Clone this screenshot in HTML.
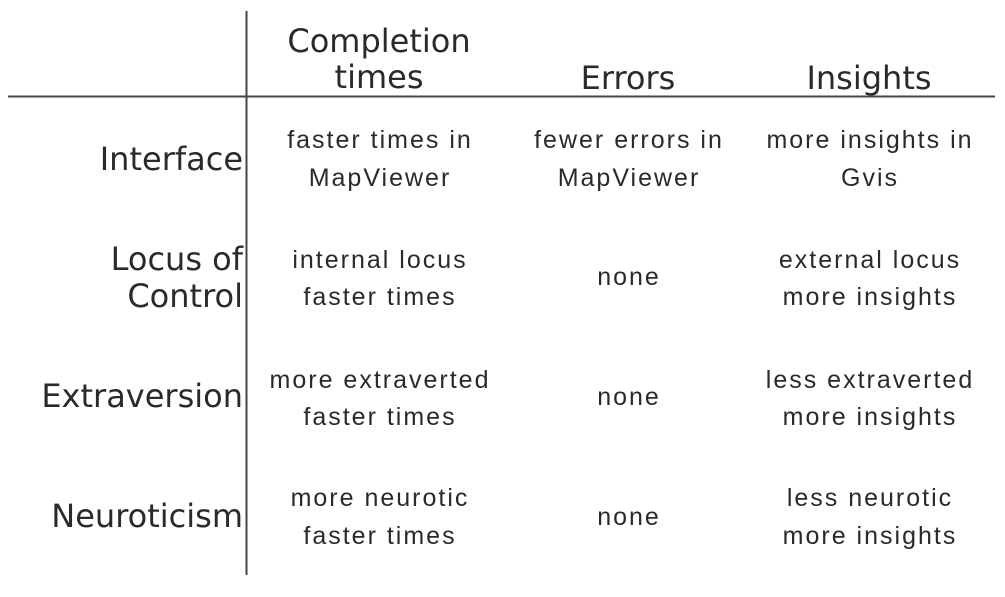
<!DOCTYPE html>
<html><head><meta charset="utf-8"><style>
html,body{margin:0;padding:0;background:#fff;}
svg{display:block;}
.h{font-family:"DejaVu Sans",Verdana,sans-serif;font-size:32px;fill:#2a2a2a;}
.r{font-family:"DejaVu Sans",Verdana,sans-serif;font-size:32px;fill:#2a2a2a;text-anchor:end;}
.c{font-family:"Liberation Sans",Arial,sans-serif;font-size:25px;letter-spacing:2px;fill:#2a2a2a;text-anchor:middle;}
</style></head><body>
<svg width="1005" height="597" viewBox="0 0 1005 597">
<rect width="1005" height="597" fill="#fff"/>
<line x1="246.5" y1="11" x2="246.5" y2="575" stroke="#444" stroke-width="2"/>
<line x1="8" y1="96.5" x2="995" y2="96.5" stroke="#444" stroke-width="2"/>
<g class="h" text-anchor="middle">
<text x="379" y="52">Completion</text>
<text x="379" y="88">times</text>
<text x="628" y="89">Errors</text>
<text x="869" y="89">Insights</text>
</g>
<text class="r" x="243" y="170">Interface</text>
<text class="r" x="243" y="270">Locus of</text>
<text class="r" x="243" y="307">Control</text>
<text class="r" x="243" y="407">Extraversion</text>
<text class="r" x="243" y="527">Neuroticism</text>
<g class="c">
<text x="380" y="148">faster times in</text>
<text x="380" y="186">MapViewer</text>
<text x="629" y="148">fewer errors in</text>
<text x="629" y="186">MapViewer</text>
<text x="870" y="148">more insights in</text>
<text x="870" y="186">Gvis</text>
<text x="380" y="268">internal locus</text>
<text x="380" y="305">faster times</text>
<text x="629" y="285">none</text>
<text x="870" y="268">external locus</text>
<text x="870" y="305">more insights</text>
<text x="380" y="388">more extraverted</text>
<text x="380" y="425">faster times</text>
<text x="629" y="405">none</text>
<text x="870" y="388">less extraverted</text>
<text x="870" y="425">more insights</text>
<text x="380" y="506">more neurotic</text>
<text x="380" y="544">faster times</text>
<text x="629" y="525">none</text>
<text x="870" y="506">less neurotic</text>
<text x="870" y="544">more insights</text>
</g>
</svg>
</body></html>
